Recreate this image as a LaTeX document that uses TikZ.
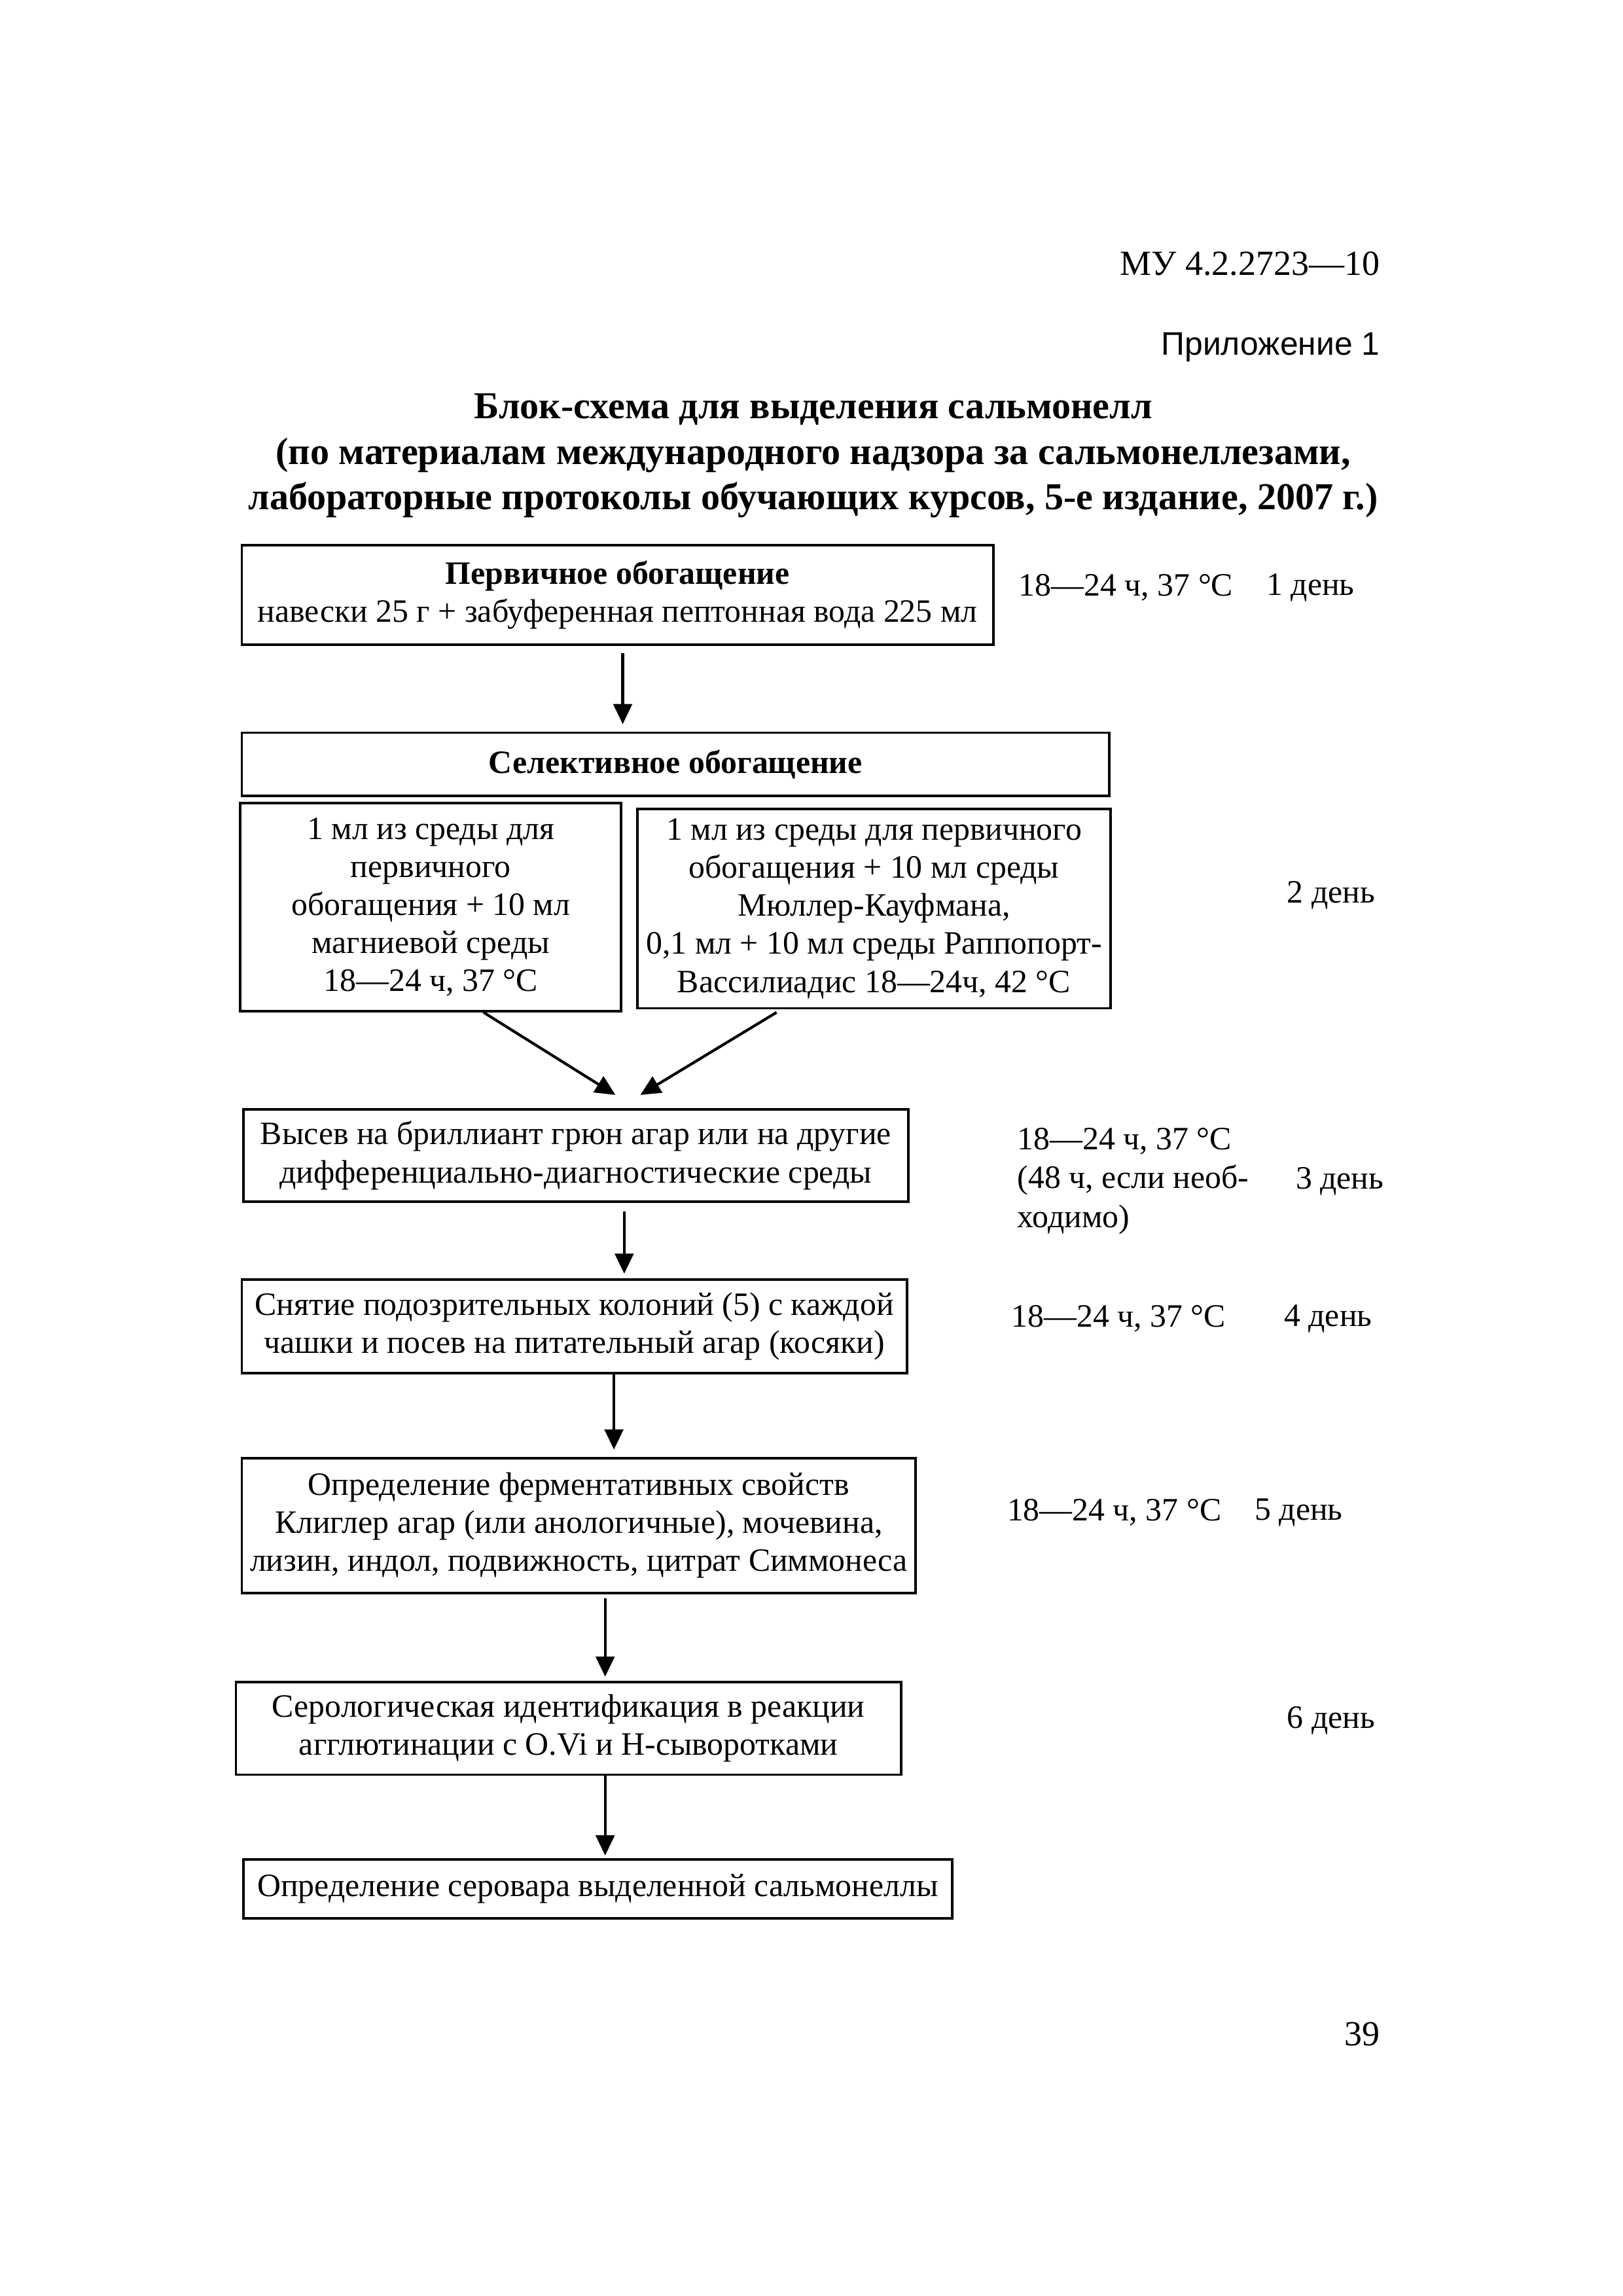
\documentclass[tikz,border=0pt]{standalone}
\usepackage{fontspec}
\setmainfont{Liberation Serif}
\newfontfamily\arialfont{Liberation Sans}
\usetikzlibrary{calc,arrows.meta}
\newlength\unitpx
\setlength\unitpx{0.18959mm}

\begin{document}
\begin{tikzpicture}[x=0.18959mm, y=-0.18959mm,
  box/.style={draw, line width=0.9pt, align=center, inner sep=0pt, font=\fontsize{12}{14}\selectfont},
  note/.style={anchor=west, align=left, inner sep=0pt, font=\fontsize{12}{14.3}\selectfont},
  arrow/.style={-{Triangle[length=2.6mm, width=2.4mm]}, line width=1pt}]
\useasboundingbox (0,0) rectangle (1107.6,1566.8);

\node [anchor=east, inner sep=0pt, font=\fontsize{13}{15}\selectfont] (doc) at (942,180) {МУ 4.2.2723—10};
\node [anchor=east, inner sep=0pt, font=\arialfont\fontsize{12}{14}\selectfont] (app) at (942,237) {Приложение 1};
\node [align=center, inner sep=0pt, font=\bfseries\fontsize{14}{16.8}\selectfont] (title) at (555,311) {Блок-схема для выделения сальмонелл\\(по материалам международного надзора за сальмонеллезами,\\лабораторные протоколы обучающих курсов, 5-е издание, 2007 г.)};

\node [box, minimum width=513\unitpx, minimum height=68\unitpx] (prim) at (421.5,406) {\textbf{Первичное обогащение}\\навески 25 г + забуференная пептонная вода 225 мл};
\node [box, minimum width=592\unitpx, minimum height=43\unitpx] (sel) at (461,521.5) {\textbf{Селективное обогащение}};
\node [box, minimum width=260\unitpx, minimum height=142\unitpx] (selL) at (294,619) {1 мл из среды для\\первичного\\обогащения + 10 мл\\магниевой среды\\18—24 ч, 37 °C};
\node [box, minimum width=323\unitpx, minimum height=136\unitpx] (selR) at (596.5,620) {1 мл из среды для первичного\\обогащения + 10 мл среды\\Мюллер-Кауфмана,\\0,1 мл + 10 мл среды Раппопорт-\\Вассилиадис 18—24ч, 42 °C};
\node [box, minimum width=454\unitpx, minimum height=63\unitpx] (plate) at (393,788.5) {Высев на бриллиант грюн агар или на другие\\дифференциально-диагностические среды};
\node [box, minimum width=454\unitpx, minimum height=64\unitpx] (pick) at (392,905) {Снятие подозрительных колоний (5) с каждой\\чашки и посев на питательный агар (косяки)};
\node [box, minimum width=460\unitpx, minimum height=92\unitpx] (ferm) at (395,1041) {Определение ферментативных свойств\\Клиглер агар (или анологичные), мочевина,\\лизин, индол, подвижность, цитрат Симмонеса};
\node [box, minimum width=454\unitpx, minimum height=63\unitpx] (sero) at (388,1179.5) {Серологическая идентификация в реакции\\агглютинации с O.Vi и H-сыворотками};
\node [box, minimum width=484\unitpx, minimum height=40\unitpx] (serovar) at (408,1289) {Определение серовара выделенной сальмонеллы};

\node [note] (t1) at (695,401) {18—24 ч, 37 °C};
\node [note] (d1) at (864,401) {1 день};
\node [note] (d2) at (878,611) {2 день};
\node [note] (t3) at (694,806) {18—24 ч, 37 °C\\(48 ч, если необ-\\ходимо)};
\node [note] (d3) at (884,806) {3 день};
\node [note] (t4) at (690,900) {18—24 ч, 37 °C};
\node [note] (d4) at (876,900) {4 день};
\node [note] (t5) at (687,1032) {18—24 ч, 37 °C};
\node [note] (d5) at (856,1032) {5 день};
\node [note] (d6) at (878,1174) {6 день};

\node [anchor=east, inner sep=0pt, font=\fontsize{13}{15}\selectfont] (page) at (942,1388) {39};

\draw [arrow] ($(prim.south)+(3.5,5)$) -- ($(sel.north)+(-36,-5)$);
\draw [arrow] ($(selL.south)+(36,0)$) -- ($(plate.north)+(27,-9)$);
\draw [arrow] ($(selR.south)+(-66.5,2)$) -- ($(plate.north)+(44,-9)$);
\draw [arrow] ($(plate.south)+(33,6)$) -- ($(pick.north)+(34,-3)$);
\draw [arrow] ($(pick.south)+(27,0)$) -- ($(ferm.north)+(24,-5)$);
\draw [arrow] ($(ferm.south)+(18,3)$) -- ($(sero.north)+(25,-3)$);
\draw [arrow] ($(sero.south)+(25,0)$) -- ($(serovar.north)+(5,-2)$);
\end{tikzpicture}
\end{document}
